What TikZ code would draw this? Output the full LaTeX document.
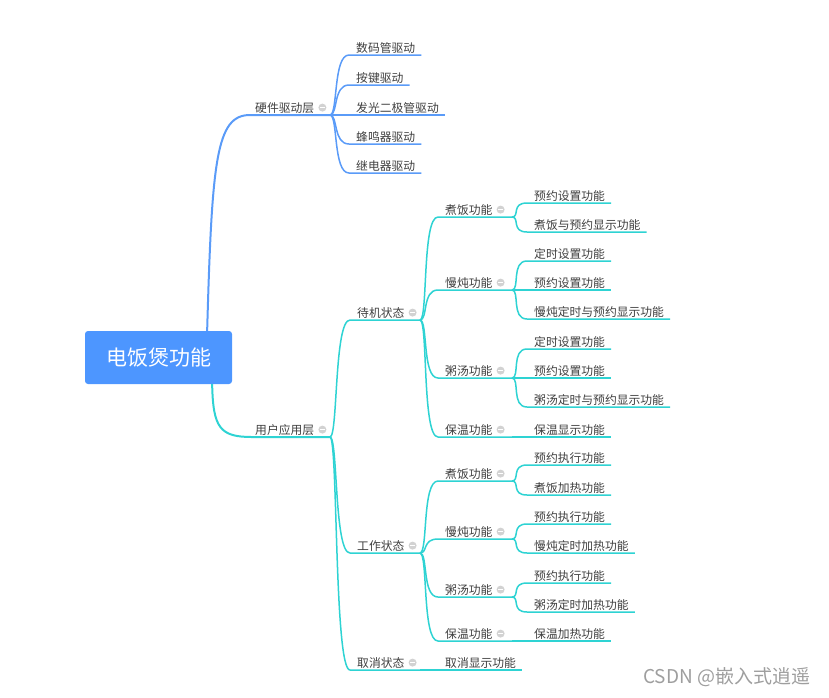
\documentclass[tikz,border=0pt]{standalone}
\usepackage{fontspec}
\setmainfont{Noto Sans CJK SC}
\usetikzlibrary{calc}
\definecolor{hwblue}{HTML}{5A9BF8}
\definecolor{rootblue}{HTML}{4D96FF}
\definecolor{cyanline}{HTML}{2ED3D3}
\definecolor{txt}{HTML}{3F3F3F}
\definecolor{dotgray}{HTML}{D2D2D2}
\tikzset{
  topic/.style={anchor=base west, inner sep=0pt, text=txt, font=\fontsize{11.8}{12}\selectfont},
  conn/.style={to path={.. controls ($(\tikztostart)+(8,0)$) and ($(\tikztotarget)+(-16,0)$) .. (\tikztotarget)}},
  bl/.style={draw=hwblue, line width=1.5pt},
  cy/.style={draw=cyanline, line width=1.5pt},
  fold/.style={circle, fill=dotgray, minimum size=8pt, inner sep=0pt,
    path picture={\draw[white, line width=1pt] ($(path picture bounding box.center)+(-2.2,0)$) -- ($(path picture bounding box.center)+(2.2,0)$);}},
}
% #1 name, #2 text, #3 text x, #4 underline y, #5 parent junction, #6 style
\newcommand\leafnode[6]{%
  \node[topic] (#1) at (#3,#4-3) {#2};
  \coordinate (#1s) at (#3-7,#4);
  \draw[#6] (#5) to[conn] (#1s) -- ($(#1s -| #1.east)+(6,0)$);
}
% #1 name, #2 text, #3 text x, #4 underline y, #5 parent junction, #6 style, #7 junction x
\newcommand\midnode[7]{%
  \node[topic] (#1) at (#3,#4-3) {#2};
  \node[fold] (#1f) at ([xshift=8pt,yshift=4.4pt]#1.base east) {};
  \coordinate (#1s) at (#3-7,#4);
  \coordinate (#1j) at (#7,#4);
  \draw[#6] (#5) to[conn] (#1s) -- (#1j);
}
\begin{document}
\begin{tikzpicture}[x=1pt,y=-1pt]
\useasboundingbox (0,0) rectangle (829,697);

% root
\node[fill=rootblue, rounded corners=3pt, minimum width=147pt, minimum height=53pt, inner sep=0pt,
      text=white, font=\fontsize{21}{22}\selectfont] (root) at (158.5,357.5) {电饭煲功能};
\coordinate (rt) at ($(root.north west)!0.83!(root.north east)$);
\coordinate (rb) at ($(root.south west)!0.864!(root.south east)$);

% level 1
\node[topic] (hw) at (255,112) {硬件驱动层};
\node[fold] (hwf) at ([xshift=8pt,yshift=4.4pt]hw.base east) {};
\coordinate (hws) at (250,115);
\coordinate (hwj) at (330,115);
\draw[bl, line width=2pt] (rt) .. controls (212,160) and (216,115) .. (hws) -- (hwj);

\node[topic] (ua) at (255,434) {用户应用层};
\node[fold] (uaf) at ([xshift=8pt,yshift=4.4pt]ua.base east) {};
\coordinate (uas) at (252,437);
\coordinate (uaj) at (330,437);
\draw[cy, line width=2pt] (rb) .. controls (213,428) and (220,437) .. (uas) -- (uaj);

% hardware leaves
\leafnode{h1}{数码管驱动}{356}{55}{hwj}{bl}
\leafnode{h2}{按键驱动}{356}{85}{hwj}{bl}
\leafnode{h3}{发光二极管驱动}{356}{115}{hwj}{bl}
\leafnode{h4}{蜂鸣器驱动}{356}{144}{hwj}{bl}
\leafnode{h5}{继电器驱动}{356}{173}{hwj}{bl}

% states
\midnode{s1}{待机状态}{357}{320}{uaj}{cy}{420}
\midnode{s2}{工作状态}{357}{553}{uaj}{cy}{420}
\midnode{s3}{取消状态}{357}{670}{uaj}{cy}{420}
\node[topic] (s31) at (445,667) {取消显示功能};
\draw[cy] (s3j) -- ($(s3j -| s31.east)+(6,0)$);

% standby functions
\midnode{a1}{煮饭功能}{445}{217}{s1j}{cy}{512}
\leafnode{a11}{预约设置功能}{534}{203}{a1j}{cy}
\leafnode{a12}{煮饭与预约显示功能}{534}{232}{a1j}{cy}

\midnode{a2}{慢炖功能}{445}{290}{s1j}{cy}{512}
\leafnode{a21}{定时设置功能}{534}{261}{a2j}{cy}
\leafnode{a22}{预约设置功能}{534}{290}{a2j}{cy}
\leafnode{a23}{慢炖定时与预约显示功能}{534}{319}{a2j}{cy}

\midnode{a3}{粥汤功能}{445}{378}{s1j}{cy}{512}
\leafnode{a31}{定时设置功能}{534}{349}{a3j}{cy}
\leafnode{a32}{预约设置功能}{534}{378}{a3j}{cy}
\leafnode{a33}{粥汤定时与预约显示功能}{534}{407}{a3j}{cy}

\midnode{a4}{保温功能}{445}{437}{s1j}{cy}{512}
\node[topic] (a41) at (534,434) {保温显示功能};
\draw[cy] (a4j) -- ($(a4j -| a41.east)+(6,0)$);

% working functions
\midnode{b1}{煮饭功能}{445}{481}{s2j}{cy}{512}
\leafnode{b11}{预约执行功能}{534}{465}{b1j}{cy}
\leafnode{b12}{煮饭加热功能}{534}{495}{b1j}{cy}

\midnode{b2}{慢炖功能}{445}{539}{s2j}{cy}{512}
\leafnode{b21}{预约执行功能}{534}{524}{b2j}{cy}
\leafnode{b22}{慢炖定时加热功能}{534}{553}{b2j}{cy}

\midnode{b3}{粥汤功能}{445}{597}{s2j}{cy}{512}
\leafnode{b31}{预约执行功能}{534}{583}{b3j}{cy}
\leafnode{b32}{粥汤定时加热功能}{534}{612}{b3j}{cy}

\midnode{b4}{保温功能}{445}{641}{s2j}{cy}{512}
\node[topic] (b41) at (534,638) {保温加热功能};
\draw[cy] (b4j) -- ($(b4j -| b41.east)+(6,0)$);

% watermark
\node[anchor=west, inner sep=0pt, text=black!38, font=\fontsize{19}{20}\selectfont] (wm) at (643,677) {CSDN @嵌入式逍遥};
\end{tikzpicture}
\end{document}
